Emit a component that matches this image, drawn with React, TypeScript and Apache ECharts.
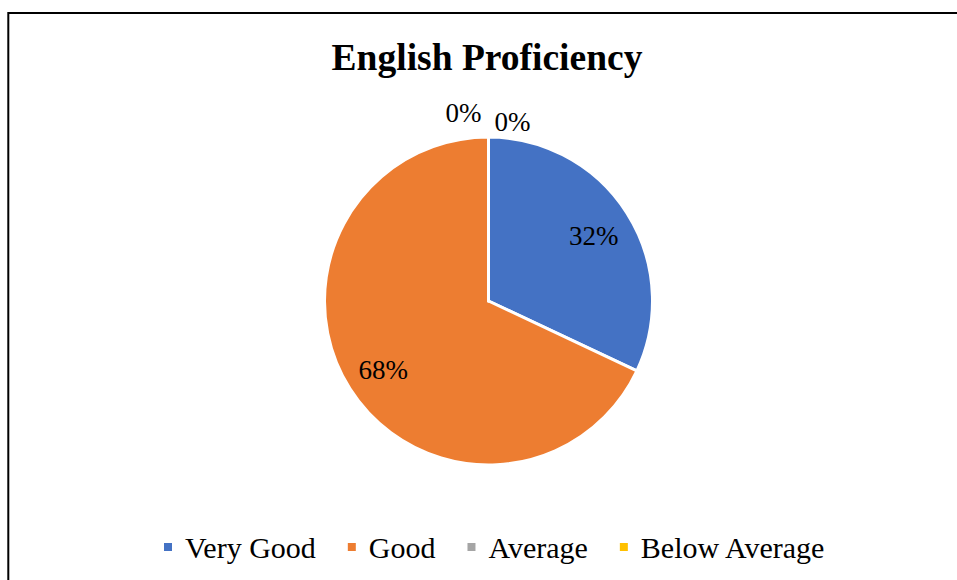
import React, { useEffect, useRef } from "react";
import * as echarts from "echarts";

const categories = ["Very Good", "Good", "Average", "Below Average"];
const values = [32, 68, 0, 0];
const colors = ["#4472C4", "#ED7D31", "#A5A5A5", "#FFC000"];
const titleText = "English Proficiency";

const FONT = '"Liberation Serif", "Times New Roman", serif';

export default function App() {
  const ref = useRef<HTMLDivElement>(null);

  useEffect(() => {
    if (!ref.current) return;
    const chart = echarts.init(ref.current, null, { renderer: "svg" });
    const cx = 488.5;
    const cy = 301;
    const r = 164;
    const total = values.reduce((a, b) => a + b, 0);
    const mids: number[] = [];
    let acc = 0;
    values.forEach((v) => {
      const start = acc;
      acc += v;
      mids.push(((start + acc) / 2 / total) * Math.PI * 2);
    });
    const zeroOffsets: Record<number, [number, number]> = {
      2: [-25, -24],
      3: [24, -15],
    };

    chart.setOption({
      animation: false,
      backgroundColor: "#ffffff",
      title: {
        text: titleText,
        left: 482,
        top: 33,
        textAlign: "center",
        textStyle: {
          fontFamily: FONT,
          fontWeight: "bold",
          fontSize: 37.5,
          color: "#000000",
        },
      },
      graphic: [
        {
          type: "rect",
          z: -10,
          shape: { x: 8.3, y: 13, width: 1200, height: 1000 },
          style: { fill: "none", stroke: "#000000", lineWidth: 2 },
        },
      ],
      legend: {
        bottom: 13,
        left: 157,
        icon: "rect",
        itemWidth: 10,
        itemHeight: 10,
        itemGap: 30,
        data: categories,
        textStyle: {
          fontFamily: FONT,
          fontSize: 30,
          color: "#000000",
          padding: [0, 0, 0, 7],
        },
      },
      series: [
        {
          type: "pie",
          center: [cx, cy],
          radius: [0, r],
          startAngle: 90,
          clockwise: true,
          avoidLabelOverlap: false,
          itemStyle: { borderColor: "#ffffff", borderWidth: 3 },
          label: {
            show: true,
            position: "inside",
            fontFamily: FONT,
            fontSize: 27,
            color: "#000000",
            formatter: (p: any) => Math.round(p.percent) + "%",
          },
          labelLine: { show: false },
          labelLayout: (params: any) => {
            const i = params.dataIndex;
            if (values[i] === 0) {
              const o = zeroOffsets[i] || [0, -20];
              return {
                x: cx + o[0],
                y: cy - r + o[1],
                align: "center",
                verticalAlign: "middle",
              };
            }
            const a = mids[i];
            const k = 0.76 * r;
            return {
              x: cx + k * Math.sin(a),
              y: cy - k * Math.cos(a) + 2,
              align: "center",
              verticalAlign: "middle",
            };
          },
          data: categories.map((name, i) => ({
            name,
            value: values[i],
            itemStyle: { color: colors[i] },
          })),
        },
      ],
    });
    return () => chart.dispose();
  }, []);

  return (
    <div
      ref={ref}
      style={{ position: "fixed", left: 0, top: 0, width: 957, height: 580 }}
    />
  );
}
